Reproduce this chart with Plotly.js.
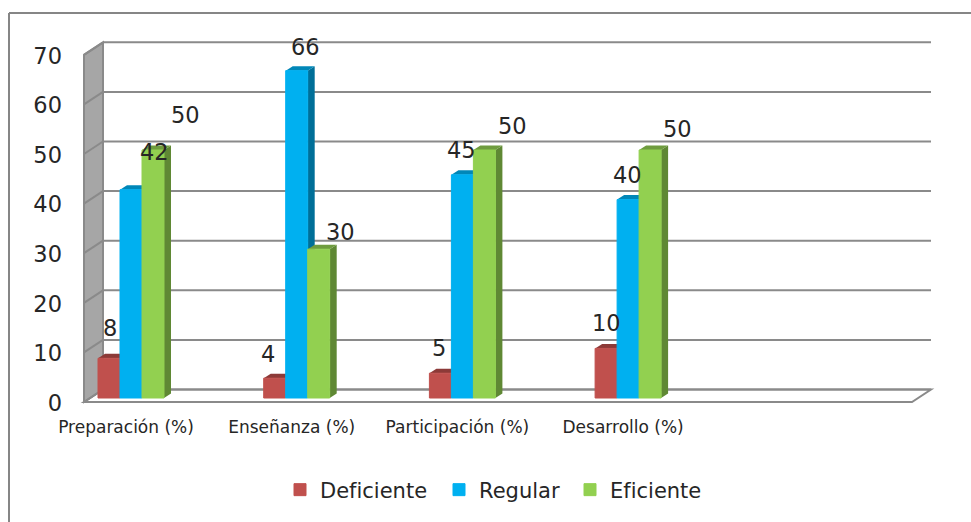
<!DOCTYPE html>
<html lang="es">
<head>
<meta charset="utf-8">
<title>Evaluación por dimensión</title>
<script src="https://cdn.plot.ly/plotly-3.0.1.min.js"></script>
<style>html,body{margin:0;padding:0;background:#fff}#chart{width:971px;height:522px}</style>
</head>
<body>
<div id="chart"></div>
<script>
// Values per dimension (percent)
const categories = ['Preparación (%)', 'Enseñanza (%)', 'Participación (%)', 'Desarrollo (%)'];
const seriesNames = ['Deficiente', 'Regular', 'Eficiente'];
const deficiente = [8, 4, 5, 10];
const regular = [42, 66, 45, 40];
const eficiente = [50, 30, 50, 50];
const yTicks = [0, 10, 20, 30, 40, 50, 60, 70];

// Face colours: front, top, side
const frontColors = ['#C0504D', '#00B0F0', '#92D050'];
const topColors = ['#8C3A38', '#0087B8', '#6F9C3F'];
const sideColors = ['#943E3B', '#006F98', '#5F8834'];

// Hand-placed label offsets in pixels from each bar's top centre [dx, dy up]
const labelOffsets = [
  [[1, 30], [-7, 24], [-1, 25], [0, 25]],
  [[23, 38], [9, 24], [-1, 25], [-1, 25]],
  [[32, 35], [22, 17], [28, 24], [27, 21]]
];

// Chart geometry in pixels
const W = 971, H = 522;
const plotL = 80, plotR = 935, plotT = 25, plotB = 406;
const catStep = 165.7, cat0 = 131;         // horizontal scale
const unit = 4.96, zeroY = 398;            // vertical scale on the bars' plane
const barPx = 22;
const barDepthX = 7, barDepthY = 4.5;      // oblique depth of a bar
const wallFrontX = 84, wallBackX = 103, floorRightX = 931;
const frontZeroY = 402, backZeroY = 389.5;
const legendLeft = [280, 439, 570];        // each legend entry sits on its own spot

// Pixel distances converted to axis units, so everything runs through the axes
const xOf = px => (px - cat0) / catStep;
const yOf = px => (zeroY - px) / unit;
const barW = barPx / catStep;
const dX = barDepthX / catStep, dY = barDepthY / unit;
const frontShift = yOf(frontZeroY), backShift = yOf(backZeroY);
const paperX = px => (px - plotL) / (plotR - plotL);
const paperY = px => (plotB - px) / (plotB - plotT);

const values = [deficiente, regular, eficiente];

const traces = values.map((vals, s) => ({
  type: 'bar',
  name: seriesNames[s],
  legend: s === 0 ? 'legend' : 'legend' + (s + 1),
  x: categories,
  y: vals,
  marker: {color: frontColors[s], line: {color: frontColors[s], width: 1}},
  hoverinfo: 'x+y+name'
}));

const poly = (pts, fill, stroke, width) => ({
  type: 'path', xref: 'x', yref: 'y', layer: 'between',
  path: 'M' + pts.map(p => p[0] + ' ' + p[1]).join('L') + 'Z',
  fillcolor: fill,
  line: stroke ? {color: stroke, width: width} : {width: 0}
});
const seg = (x0, y0, x1, y1) => ({
  type: 'line', xref: 'x', yref: 'y', layer: 'between',
  x0, y0, x1, y1, line: {color: '#8A8A8A', width: 2}
});

const shapes = [];

// Outer frame, open on the right and at the bottom
const frameLine = {color: '#868686', width: 2};
shapes.push({type: 'line', xref: 'paper', yref: 'paper', layer: 'below', x0: paperX(9), x1: paperX(W), y0: paperY(13), y1: paperY(13), line: frameLine});
shapes.push({type: 'line', xref: 'paper', yref: 'paper', layer: 'below', x0: paperX(9), x1: paperX(9), y0: paperY(13), y1: paperY(H), line: frameLine});

// Floor outline
const xFL = xOf(wallFrontX), xBL = xOf(wallBackX), xBR = xOf(floorRightX);
const xFR = xBR - (xBL - xFL);
shapes.push(poly([[xFL, frontShift], [xFR, frontShift], [xBR, backShift], [xBL, backShift]], '#FFFFFF', '#8A8A8A', 2));

// Gridlines on the back wall
yTicks.forEach(v => shapes.push(seg(xBL, v + backShift, xBR, v + backShift)));

// Grey side wall with its slanted gridlines
const wallTop = yTicks[yTicks.length - 1];
shapes.push(poly([[xFL, frontShift], [xFL, wallTop + frontShift], [xBL, wallTop + backShift], [xBL, backShift]], '#A6A6A6', '#8A8A8A', 2));
yTicks.forEach(v => shapes.push(seg(xFL, v + frontShift, xBL, v + backShift)));

// Side and top faces of each bar, from the same values as the bars
values.forEach((vals, s) => vals.forEach((v, c) => {
  const left = c + (s - 1.5) * barW, right = left + barW;
  shapes.push(poly([[right, 0], [right + dX, dY], [right + dX, v + dY], [right, v]], sideColors[s]));
  shapes.push(poly([[left, v], [left + dX, v + dY], [right + dX, v + dY], [right, v]], topColors[s]));
}));

// Value labels
const annotations = [];
values.forEach((vals, s) => vals.forEach((v, c) => {
  annotations.push({
    xref: 'x', yref: 'y', x: c + (s - 1) * barW, y: v,
    xshift: labelOffsets[s][c][0], yshift: labelOffsets[s][c][1],
    text: String(v), showarrow: false, xanchor: 'center', yanchor: 'middle',
    font: {family: 'DejaVu Sans', size: 22.5, color: '#262626'}
  });
}));

const legendAt = px => ({
  orientation: 'h', x: paperX(px), xanchor: 'left', y: paperY(490), yanchor: 'middle',
  font: {family: 'DejaVu Sans', size: 21, color: '#262626'}
});

const layout = {
  width: W, height: H,
  margin: {l: plotL, r: W - plotR, t: plotT, b: H - plotB, pad: 0},
  paper_bgcolor: '#FFFFFF', plot_bgcolor: '#FFFFFF',
  barmode: 'group',
  bargap: 1 - 3 * barW,
  bargroupgap: 0,
  showlegend: true,
  legend: legendAt(legendLeft[0]),
  legend2: legendAt(legendLeft[1]),
  legend3: legendAt(legendLeft[2]),
  xaxis: {
    type: 'category', categoryorder: 'array', categoryarray: categories,
    range: [xOf(plotL), xOf(plotR)], tickmode: 'array', tickvals: categories, ticktext: categories,
    showgrid: false, zeroline: false, showline: false, ticks: '',
    ticklabelshift: -5, ticklabelstandoff: 9, tickangle: 0,
    tickfont: {family: 'DejaVu Sans', size: 17, color: '#262626'}
  },
  yaxis: {
    range: [yOf(plotB), yOf(plotT)], tickmode: 'array', tickvals: yTicks,
    showgrid: false, zeroline: false, showline: false, ticks: '',
    ticklabelshift: 5, ticklabelstandoff: 17,
    tickfont: {family: 'DejaVu Sans', size: 22.5, color: '#262626'}
  },
  shapes, annotations
};

Plotly.newPlot('chart', traces, layout, {displayModeBar: false, responsive: false});
</script>
</body>
</html>
